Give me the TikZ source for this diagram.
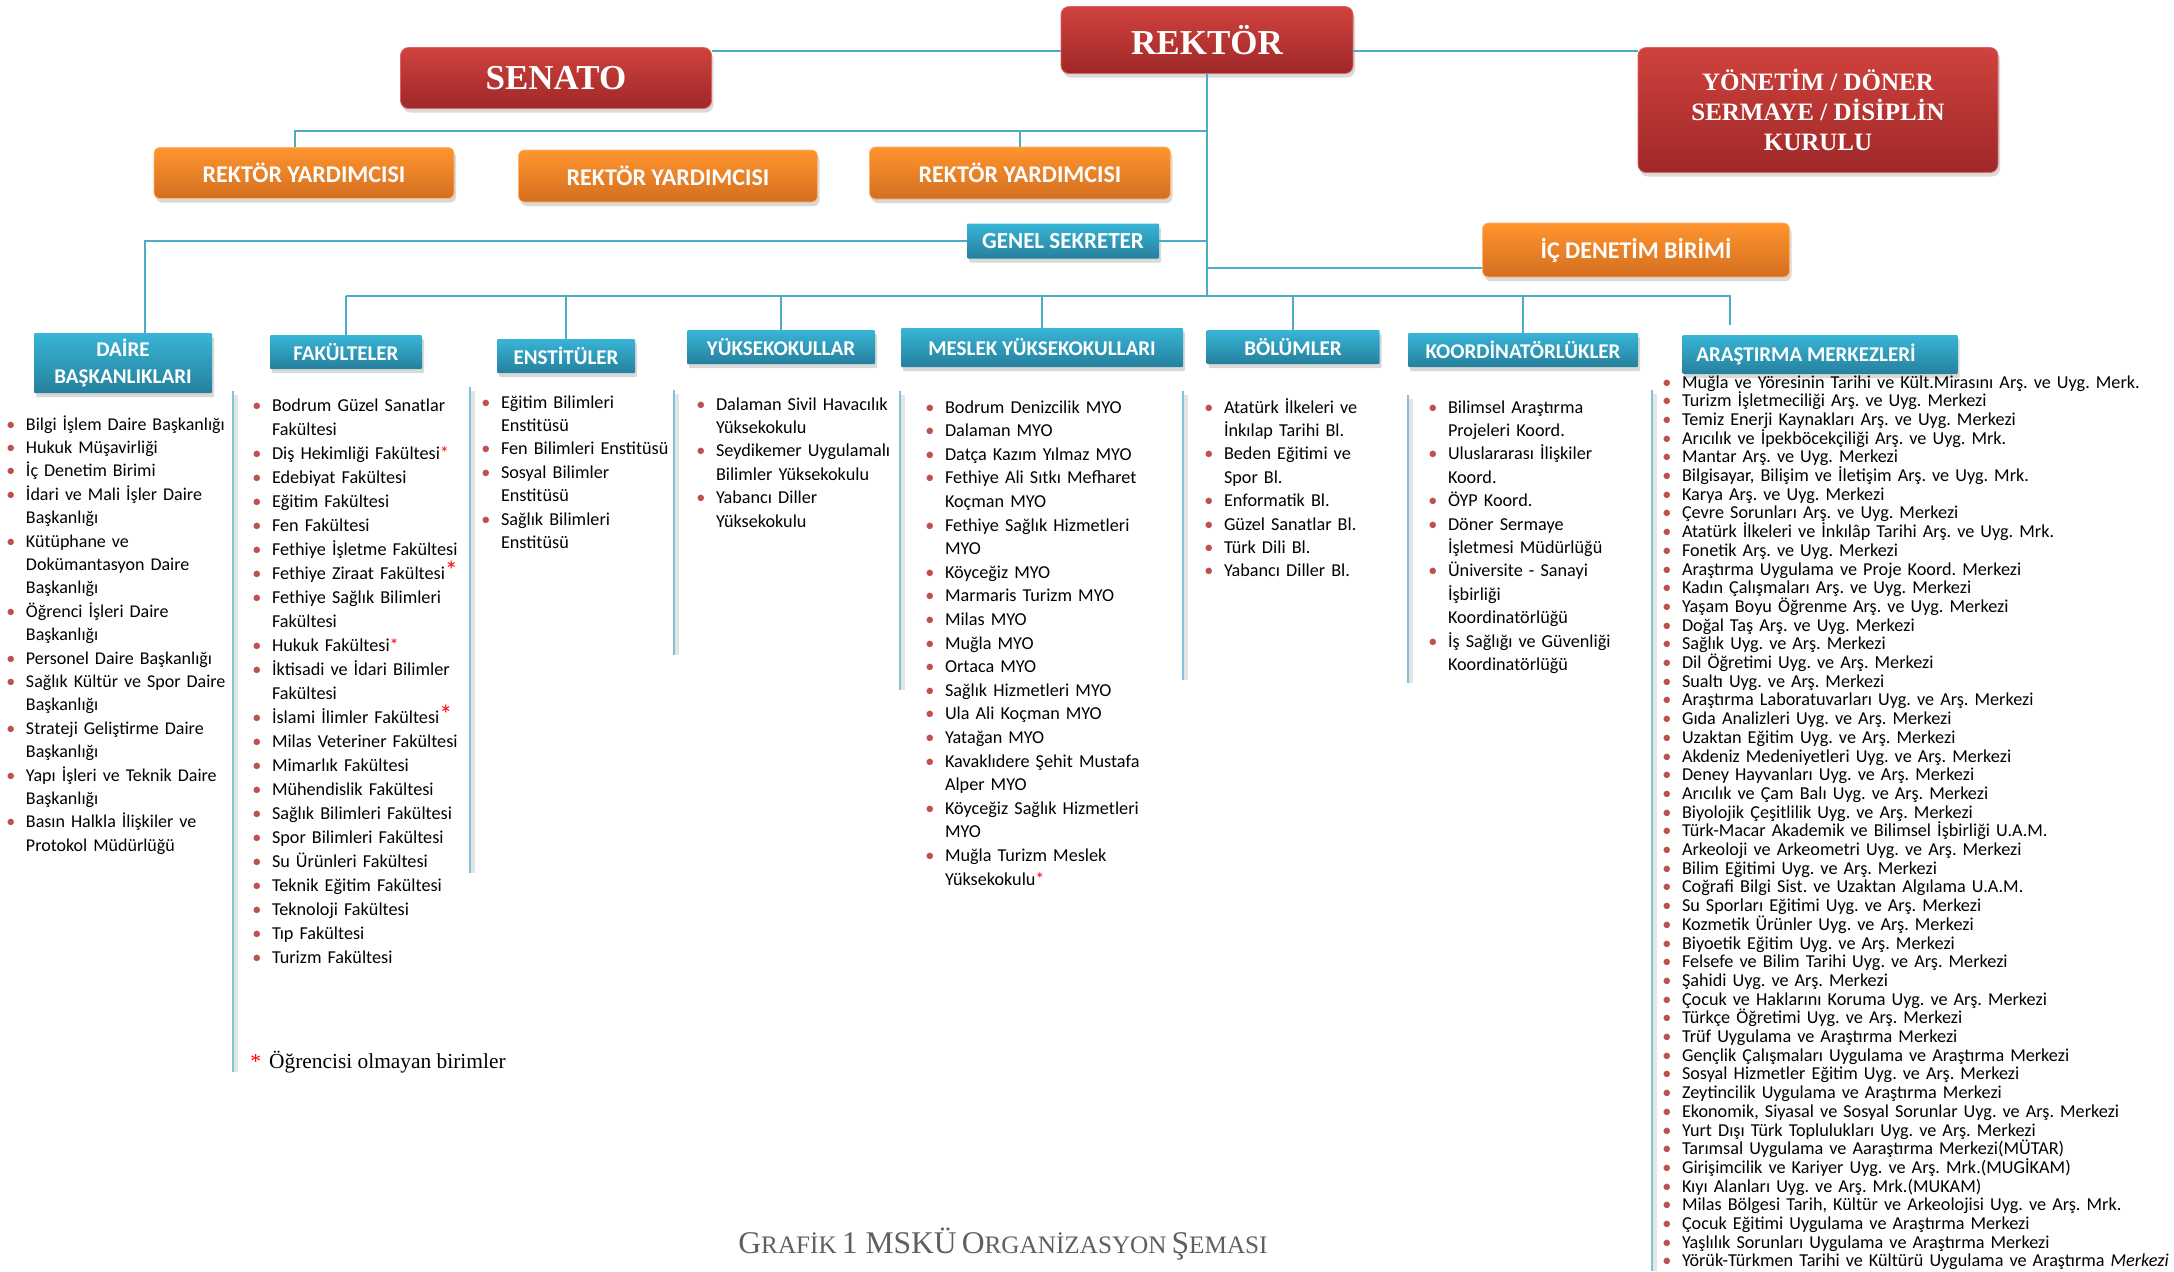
\documentclass[tikz,border=0pt]{standalone}
\usepackage{fontspec}
\setmainfont{Carlito}
\newfontfamily\serif{Liberation Serif}
\usetikzlibrary{shadows}
\frenchspacing

\definecolor{redtop}{RGB}{208,66,61}
\definecolor{redbot}{RGB}{158,40,40}
\definecolor{orgtop}{RGB}{255,149,46}
\definecolor{orgbot}{RGB}{212,110,32}
\definecolor{blutop}{RGB}{56,181,215}
\definecolor{blubot}{RGB}{37,128,156}
\definecolor{linkblue}{RGB}{75,172,198}
\definecolor{sepblue}{RGB}{125,196,216}
\definecolor{bulred}{RGB}{192,80,77}
\definecolor{starred}{RGB}{255,0,0}
\definecolor{capgray}{RGB}{95,95,95}

% list item with red bullet and hanging indent
\newcommand{\li}[1]{\hangindent=9.8pt\hangafter=1\noindent\makebox[9.8pt][l]{\textcolor{bulred}{\textbullet}}#1\par}
\newcommand{\st}{\textcolor{starred}{*}}
\newcommand{\bigst}{\textcolor{starred}{\fontsize{13}{10}\selectfont*}}
% fake small caps for the caption
\newcommand{\capsc}[2]{{\fontsize{15.8}{18}\selectfont #1}{\fontsize{12.6}{18}\selectfont #2}}

\begin{document}
\begin{tikzpicture}[x=0.5pt,y=-0.5pt,
    conn/.style={draw=linkblue, line width=1.3pt},
    sep/.style={draw=sepblue, line width=0.9pt},
    sepshade/.style={draw=black!30, line width=2pt, opacity=0.35},
    box/.style={inner sep=0pt, align=center, text=white,
      drop shadow={shadow xshift=1pt, shadow yshift=-2pt, opacity=0.3}},
    redbox/.style={box, rounded corners=4pt, top color=redtop, bottom color=redbot,
      draw=redtop!80!white, font=\serif\bfseries\fontsize{17.5}{20}\selectfont},
    orgbox/.style={box, rounded corners=3pt, top color=orgtop, bottom color=orgbot,
      draw=orgtop!70!white, font=\bfseries\fontsize{12}{14}\selectfont},
    blubox/.style={box, rounded corners=0.5pt, top color=blutop, bottom color=blubot,
      font=\bfseries\fontsize{10.5}{13.5}\selectfont},
    lst/.style={anchor=base west, inner sep=0pt, align=left,
      font=\fontsize{9.1}{11.7}\selectfont}]

  \useasboundingbox (0,0) rectangle (2174,1271);

  % top level
  \node[redbox, minimum width=146pt, minimum height=33.5pt] (rektor) at (1207,40) {REKTÖR};
  \node[redbox, minimum width=155.5pt, minimum height=30.5pt] (senato) at (556,78) {SENATO};
  \node[redbox, minimum width=180pt, minimum height=62.5pt,
    font=\serif\bfseries\fontsize{12.5}{15}\selectfont] (yonetim) at (1818,110)
    {YÖNETİM / DÖNER\\SERMAYE / DİSİPLİN\\KURULU};

  \node[orgbox, minimum width=150pt, minimum height=25.5pt] (ry1) at (304,173) {REKTÖR YARDIMCISI};
  \node[orgbox, minimum width=149.5pt, minimum height=26pt] (ry2) at (668,176) {REKTÖR YARDIMCISI};
  \node[orgbox, minimum width=150.5pt, minimum height=26pt] (ry3) at (1020,173) {REKTÖR YARDIMCISI};

  \node[blubox, minimum width=96pt, minimum height=17.5pt,
    font=\bfseries\fontsize{11.5}{13}\selectfont] (gensek) at (1063,241) {GENEL SEKRETER};
  \node[orgbox, minimum width=153.5pt, minimum height=27pt] (icdenetim) at (1636,250) {İÇ DENETİM BİRİMİ};

  % units
  \node[blubox, minimum width=89pt, minimum height=30pt] (daire) at (123,363) {DAİRE\\BAŞKANLIKLARI};
  \node[blubox, minimum width=76pt, minimum height=17pt] (fak) at (346,352) {FAKÜLTELER};
  \node[blubox, minimum width=69pt, minimum height=17pt] (ens) at (566,356) {ENSTİTÜLER};
  \node[blubox, minimum width=94pt, minimum height=17pt] (yuk) at (781,347) {YÜKSEKOKULLAR};
  \node[blubox, minimum width=141pt, minimum height=19.5pt] (myo) at (1042,347.5) {MESLEK YÜKSEKOKULLARI};
  \node[blubox, minimum width=86.5pt, minimum height=17pt] (bol) at (1293,347) {BÖLÜMLER};
  \node[blubox, minimum width=115pt, minimum height=17pt] (koord) at (1523,350) {KOORDİNATÖRLÜKLER};
  \node[blubox, minimum width=137.5pt, minimum height=19.5pt] (aras) at (1820,354.5) {ARAŞTIRMA MERKEZLERİ\hspace*{14pt}};

  % connectors
  \coordinate (ryline) at (1207,131);
  \coordinate (bus) at (1207,296);
  \coordinate (arastop) at (1730,325);
  \draw[conn] ([yshift=-2pt]senato.north east) coordinate (s1) -- (s1 -| rektor.west);
  \draw[conn] (s1 -| rektor.east) -- (s1 -| yonetim.west);
  \draw[conn] (rektor.south) -- (bus);
  \draw[conn] (ryline) -| ([xshift=-4.5pt]ry1.north);
  \draw[conn] (ry3.north) -- (ry3.north |- ryline);
  \draw[conn] (gensek.east) -- (gensek.east -| bus);
  \draw[conn] (gensek.west) -| ([xshift=11pt]daire.north);
  \draw[conn] ([yshift=-9pt]icdenetim.west) coordinate (i1) -- (i1 -| bus);
  \draw[conn] (fak.north |- bus) -| (arastop);
  \foreach \u in {fak,ens,yuk,myo,bol,koord}
    \draw[conn] (\u.north) -- (\u.north |- bus);

  % column rules
  \foreach \x/\a/\b in {233/391/1072, 470/387/873, 674/390/655, 900/391/690,
                        1183/391/680, 1408/395/683, 1652/390/1271} {
    \draw[sepshade] (\x+3,\a+4) -- (\x+3,\b);
    \draw[sep] (\x,\a) -- (\x,\b);
  }

  % lists
  \node[lst, text width=130pt, font=\fontsize{9.0}{11.7}\selectfont] (dairelist) at (6,430) {%
    \li{Bilgi İşlem Daire Başkanlığı}
    \li{Hukuk Müşavirliği}
    \li{İç Denetim Birimi}
    \li{İdari ve Mali İşler Daire\newline Başkanlığı}
    \li{Kütüphane ve\newline Dokümantasyon Daire\newline Başkanlığı}
    \li{Öğrenci İşleri Daire\newline Başkanlığı}
    \li{Personel Daire Başkanlığı}
    \li{Sağlık Kültür ve Spor Daire\newline Başkanlığı}
    \li{Strateji Geliştirme Daire\newline Başkanlığı}
    \li{Yapı İşleri ve Teknik Daire\newline Başkanlığı}
    \li{Basın Halkla İlişkiler ve\newline Protokol Müdürlüğü}};

  \node[lst, text width=130pt, font=\fontsize{9.1}{12}\selectfont] (faklist) at (252,411) {%
    \li{Bodrum Güzel Sanatlar\newline Fakültesi}
    \li{Diş Hekimliği Fakültesi\st}
    \li{Edebiyat Fakültesi}
    \li{Eğitim Fakültesi}
    \li{Fen Fakültesi}
    \li{Fethiye İşletme Fakültesi}
    \li{Fethiye Ziraat Fakültesi\bigst}
    \li{Fethiye Sağlık Bilimleri\newline Fakültesi}
    \li{Hukuk Fakültesi\st}
    \li{İktisadi ve İdari Bilimler\newline Fakültesi}
    \li{İslami İlimler Fakültesi\bigst}
    \li{Milas Veteriner Fakültesi}
    \li{Mimarlık Fakültesi}
    \li{Mühendislik Fakültesi}
    \li{Sağlık Bilimleri Fakültesi}
    \li{Spor Bilimleri Fakültesi}
    \li{Su Ürünleri Fakültesi}
    \li{Teknik Eğitim Fakültesi}
    \li{Teknoloji Fakültesi}
    \li{Tıp Fakültesi}
    \li{Turizm Fakültesi}};

  \node[lst, text width=110pt] (enslist) at (481,408) {%
    \li{Eğitim Bilimleri\newline Enstitüsü}
    \li{Fen Bilimleri Enstitüsü}
    \li{Sosyal Bilimler\newline Enstitüsü}
    \li{Sağlık Bilimleri\newline Enstitüsü}};

  \node[lst, text width=110pt] (yuklist) at (696,410) {%
    \li{Dalaman Sivil Havacılık\newline Yüksekokulu}
    \li{Seydikemer Uygulamalı\newline Bilimler Yüksekokulu}
    \li{Yabancı Diller\newline Yüksekokulu}};

  \node[lst, text width=130pt, font=\fontsize{9.1}{11.8}\selectfont] (myolist) at (925,413) {%
    \li{Bodrum Denizcilik MYO}
    \li{Dalaman MYO}
    \li{Datça Kazım Yılmaz MYO}
    \li{Fethiye Ali Sıtkı Mefharet\newline Koçman MYO}
    \li{Fethiye Sağlık Hizmetleri\newline MYO}
    \li{Köyceğiz MYO}
    \li{Marmaris Turizm MYO}
    \li{Milas MYO}
    \li{Muğla MYO}
    \li{Ortaca MYO}
    \li{Sağlık Hizmetleri MYO}
    \li{Ula Ali Koçman MYO}
    \li{Yatağan MYO}
    \li{Kavaklıdere Şehit Mustafa\newline Alper MYO}
    \li{Köyceğiz Sağlık Hizmetleri\newline MYO}
    \li{Muğla Turizm Meslek\newline Yüksekokulu\st}};

  \node[lst, text width=100pt] (bollist) at (1204,413) {%
    \li{Atatürk İlkeleri ve\newline İnkılap Tarihi Bl.}
    \li{Beden Eğitimi ve\newline Spor Bl.}
    \li{Enformatik Bl.}
    \li{Güzel Sanatlar Bl.}
    \li{Türk Dili Bl.}
    \li{Yabancı Diller Bl.}};

  \node[lst, text width=110pt] (koordlist) at (1428,413) {%
    \li{Bilimsel Araştırma\newline Projeleri Koord.}
    \li{Uluslararası İlişkiler\newline Koord.}
    \li{ÖYP Koord.}
    \li{Döner Sermaye\newline İşletmesi Müdürlüğü}
    \li{Üniversite - Sanayi\newline İşbirliği\newline Koordinatörlüğü}
    \li{İş Sağlığı ve Güvenliği\newline Koordinatörlüğü}};

  \node[lst, text width=255pt, font=\fontsize{9.1}{9.35}\selectfont] (araslist) at (1662,388) {%
    \li{Muğla ve Yöresinin Tarihi ve Kült.Mirasını Arş. ve Uyg. Merk.}
    \li{Turizm İşletmeciliği Arş. ve Uyg. Merkezi}
    \li{Temiz Enerji Kaynakları Arş. ve Uyg. Merkezi}
    \li{Arıcılık ve İpekböcekçiliği Arş. ve Uyg. Mrk.}
    \li{Mantar Arş. ve Uyg. Merkezi}
    \li{Bilgisayar, Bilişim ve İletişim Arş. ve Uyg. Mrk.}
    \li{Karya Arş. ve Uyg. Merkezi}
    \li{Çevre Sorunları Arş. ve Uyg. Merkezi}
    \li{Atatürk İlkeleri ve İnkılâp Tarihi Arş. ve Uyg. Mrk.}
    \li{Fonetik Arş. ve Uyg. Merkezi}
    \li{Araştırma Uygulama ve Proje Koord. Merkezi}
    \li{Kadın Çalışmaları Arş. ve Uyg. Merkezi}
    \li{Yaşam Boyu Öğrenme Arş. ve Uyg. Merkezi}
    \li{Doğal Taş Arş. ve Uyg. Merkezi}
    \li{Sağlık Uyg. ve Arş. Merkezi}
    \li{Dil Öğretimi Uyg. ve Arş. Merkezi}
    \li{Sualtı Uyg. ve Arş. Merkezi}
    \li{Araştırma Laboratuvarları Uyg. ve Arş. Merkezi}
    \li{Gıda Analizleri Uyg. ve Arş. Merkezi}
    \li{Uzaktan Eğitim Uyg. ve Arş. Merkezi}
    \li{Akdeniz Medeniyetleri Uyg. ve Arş. Merkezi}
    \li{Deney Hayvanları Uyg. ve Arş. Merkezi}
    \li{Arıcılık ve Çam Balı Uyg. ve Arş. Merkezi}
    \li{Biyolojik Çeşitlilik Uyg. ve Arş. Merkezi}
    \li{Türk-Macar Akademik ve Bilimsel İşbirliği U.A.M.}
    \li{Arkeoloji ve Arkeometri Uyg. ve Arş. Merkezi}
    \li{Bilim Eğitimi Uyg. ve Arş. Merkezi}
    \li{Coğrafi Bilgi Sist. ve Uzaktan Algılama U.A.M.}
    \li{Su Sporları Eğitimi Uyg. ve Arş. Merkezi}
    \li{Kozmetik Ürünler Uyg. ve Arş. Merkezi}
    \li{Biyoetik Eğitim Uyg. ve Arş. Merkezi}
    \li{Felsefe ve Bilim Tarihi Uyg. ve Arş. Merkezi}
    \li{Şahidi Uyg. ve Arş. Merkezi}
    \li{Çocuk ve Haklarını Koruma Uyg. ve Arş. Merkezi}
    \li{Türkçe Öğretimi Uyg. ve Arş. Merkezi}
    \li{Trüf Uygulama ve Araştırma Merkezi}
    \li{Gençlik Çalışmaları Uygulama ve Araştırma Merkezi}
    \li{Sosyal Hizmetler Eğitim Uyg. ve Arş. Merkezi}
    \li{Zeytincilik Uygulama ve Araştırma Merkezi}
    \li{Ekonomik, Siyasal ve Sosyal Sorunlar Uyg. ve Arş. Merkezi}
    \li{Yurt Dışı Türk Toplulukları Uyg. ve Arş. Merkezi}
    \li{Tarımsal Uygulama ve Aaraştırma Merkezi(MÜTAR)}
    \li{Girişimcilik ve Kariyer Uyg. ve Arş. Mrk.(MUGİKAM)}
    \li{Kıyı Alanları Uyg. ve Arş. Mrk.(MUKAM)}
    \li{Milas Bölgesi Tarih, Kültür ve Arkeolojisi Uyg. ve Arş. Mrk.}
    \li{Çocuk Eğitimi Uygulama ve Araştırma Merkezi}
    \li{Yaşlılık Sorunları Uygulama ve Araştırma Merkezi}
    \li{Yörük-Türkmen Tarihi ve Kültürü Uygulama ve Araştırma \textit{Merkezi}}};

  % footnote and caption
  \node[anchor=west, inner sep=0pt, font=\serif\fontsize{10.7}{12}\selectfont] (note) at (250,1062)
    {\textcolor{starred}{*}\hspace{4pt}Öğrencisi olmayan birimler};
  \node[inner sep=0pt, text=capgray, font=\serif] (caption) at (1003,1244)
    {\capsc{G}{RAFİK} \capsc{1 MSKÜ}{} \capsc{O}{RGANİZASYON} \capsc{Ş}{EMASI}};
\end{tikzpicture}
\end{document}
